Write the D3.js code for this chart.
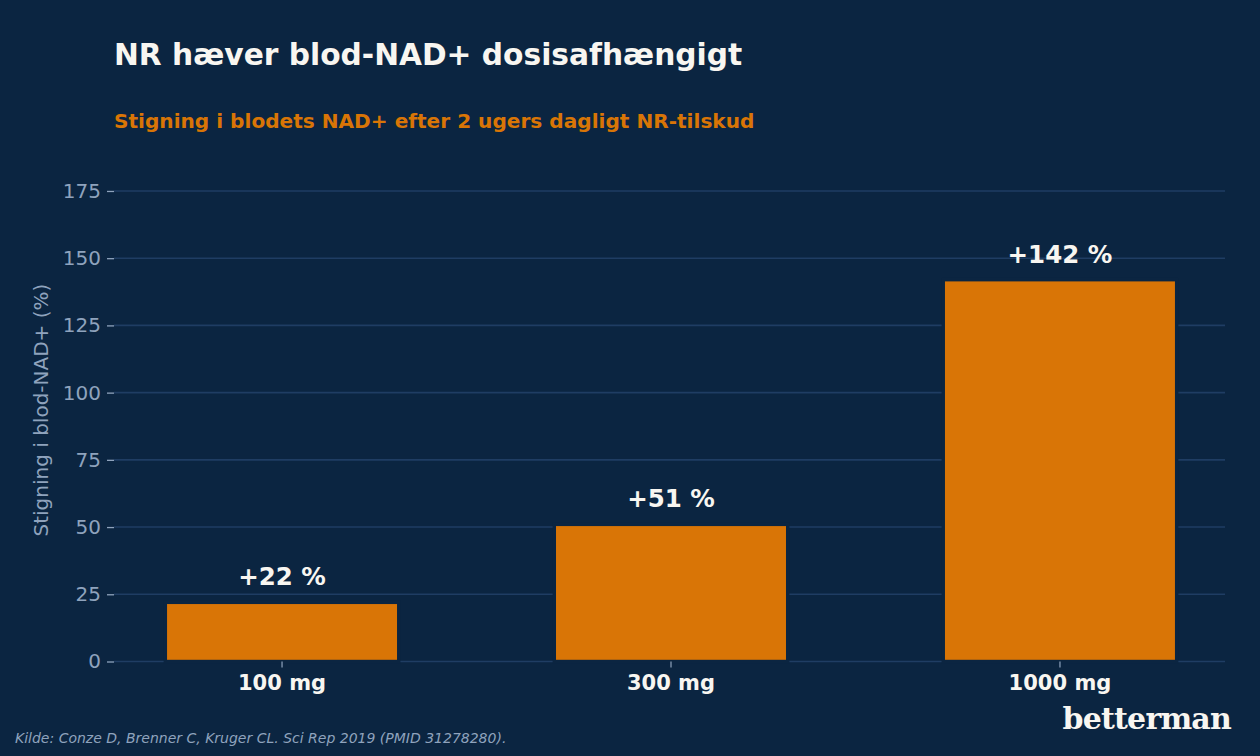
<!DOCTYPE html>
<html>
<head>
<meta charset="utf-8">
<script src="https://cdn.jsdelivr.net/npm/d3@7"></script>
<style>
  html, body { margin: 0; padding: 0; background: #0b2541; }
  svg { display: block; }
</style>
</head>
<body>
<script>
// ---- data ----
const categories = ["100 mg", "300 mg", "1000 mg"];
const values = [22, 51, 142];
const valueLabels = ["+22 %", "+51 %", "+142 %"];
const yTicks = [0, 25, 50, 75, 100, 125, 150, 175];

const title = "NR hæver blod-NAD+ dosisafhængigt";
const subtitle = "Stigning i blodets NAD+ efter 2 ugers dagligt NR-tilskud";
const yLabel = "Stigning i blod-NAD+ (%)";
const source = "Kilde: Conze D, Brenner C, Kruger CL. Sci Rep 2019 (PMID 31278280).";
const brand = "betterman";

// ---- style ----
const W = 1260, H = 756;
const BG = "#0b2541";
const ORANGE = "#d97506";
const GRID = "#1f3d63";
const MUTED = "#8fa3bd";
const WHITE = "#f8f6f1";
const FONT = "'DejaVu Sans', sans-serif";

const plot = { left: 114, right: 1225, top: 158.7, bottom: 661.5 };

const svg = d3.select("body").append("svg").attr("width", W).attr("height", H);
svg.append("rect").attr("width", W).attr("height", H).attr("fill", BG);

const x = d3.scaleBand().domain(categories)
  .range([plot.left, plot.right + 3]).paddingInner(0.4).paddingOuter(0.132);
const y = d3.scaleLinear().domain([0, 187]).range([plot.bottom, plot.top]);

// grid
const yAxis = d3.axisLeft(y).tickValues(yTicks).tickSize(7).tickPadding(6).tickFormat(d3.format("d"));
const gy = svg.append("g").attr("transform", `translate(${plot.left},0)`).call(yAxis);
gy.select(".domain").remove();
gy.selectAll(".tick line").attr("stroke", MUTED).attr("stroke-width", 1.3);
gy.selectAll(".tick text").attr("fill", MUTED).style("font-family", FONT).style("font-size", "20px");

svg.append("g").selectAll("line").data(yTicks).join("line")
  .attr("x1", plot.left).attr("x2", plot.right)
  .attr("y1", d => y(d)).attr("y2", d => y(d))
  .attr("stroke", GRID).attr("stroke-width", 1.6);

// bars
svg.append("g").selectAll("rect").data(values).join("rect")
  .attr("x", (d, i) => x(categories[i]))
  .attr("width", x.bandwidth())
  .attr("y", d => y(d))
  .attr("height", d => y(0) - y(d))
  .attr("fill", ORANGE)
  .attr("stroke", BG).attr("stroke-width", 3.4);

// value labels
svg.append("g").selectAll("text").data(values).join("text")
  .attr("x", (d, i) => x(categories[i]) + x.bandwidth() / 2)
  .attr("y", d => y(d) - 17)
  .attr("text-anchor", "middle")
  .attr("fill", WHITE)
  .style("font-family", FONT).style("font-weight", "bold").style("font-size", "24.5px")
  .text((d, i) => valueLabels[i]);

// x axis
const xAxis = d3.axisBottom(x).tickSize(6).tickPadding(8);
const gx = svg.append("g").attr("transform", `translate(0,${plot.bottom})`).call(xAxis);
gx.select(".domain").remove();
gx.selectAll(".tick line").attr("stroke", MUTED).attr("stroke-width", 1.2);
gx.selectAll(".tick text").attr("fill", WHITE)
  .style("font-family", FONT).style("font-weight", "bold").style("font-size", "21px");

// y label
svg.append("text")
  .attr("transform", `translate(48,${(plot.top + plot.bottom) / 2}) rotate(-90)`)
  .attr("text-anchor", "middle")
  .attr("fill", MUTED)
  .style("font-family", FONT).style("font-size", "20px")
  .text(yLabel);

// title & subtitle
svg.append("text").attr("x", 114).attr("y", 65)
  .attr("fill", WHITE)
  .style("font-family", FONT).style("font-weight", "bold").style("font-size", "29.7px")
  .text(title);
svg.append("text").attr("x", 114).attr("y", 128)
  .attr("fill", ORANGE)
  .style("font-family", FONT).style("font-weight", "bold").style("font-size", "20.1px")
  .text(subtitle);

// source
svg.append("text").attr("x", 15).attr("y", 743)
  .attr("fill", MUTED)
  .style("font-family", FONT).style("font-style", "italic").style("font-size", "14px")
  .text(source);

// brand
svg.append("text").attr("x", 1231).attr("y", 729)
  .attr("text-anchor", "end")
  .attr("fill", WHITE)
  .style("font-family", "'DejaVu Serif', serif").style("font-weight", "bold")
  .style("font-size", "30px")
  .style("letter-spacing", "-0.8px")
  .text(brand);
</script>
</body>
</html>
